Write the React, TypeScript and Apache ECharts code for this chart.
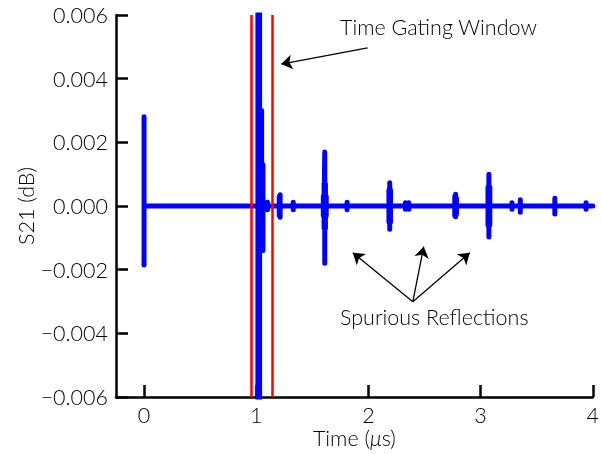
import React, { useEffect, useRef } from "react";
import * as echarts from "echarts";

// Spike/burst centres (µs) with upper and lower extents (dB)
const spikeTimes = [0, 1.015, 1.03, 1.048, 1.06, 1.1, 1.205, 1.213, 1.33, 1.598, 1.605, 1.611, 1.617, 1.624, 1.81, 2.183, 2.19, 2.197, 2.33, 2.36, 2.77, 2.777, 2.785, 3.066, 3.074, 3.082, 3.28, 3.354, 3.662, 3.94];
const spikeHigh = [0.0028, 0.012, 0.012, 0.003, 0.0013, 0.00012, 0.0003, 0.00035, 0.00012, 0.0003, 0.0007, 0.0017, 0.0007, 0.0003, 0.00012, 0.0005, 0.00073, 0.0005, 0.0001, 0.0001, 0.0003, 0.00037, 0.00025, 0.0006, 0.001, 0.0006, 0.0001, 0.0002, 0.00024, 0.0001];
const spikeLow = [-0.00185, -0.012, -0.012, -0.0014, -0.0014, -0.00012, -0.0003, -0.00035, -0.00012, -0.0003, -0.0007, -0.0018, -0.0007, -0.0003, -0.00012, -0.0005, -0.00073, -0.0005, -0.0001, -0.0001, -0.0003, -0.00034, -0.00025, -0.0006, -0.00097, -0.0006, -0.0001, -0.0002, -0.00025, -0.0001];
const timeStart = 0;
const timeEnd = 4;

// Time gating window edges (µs)
const gateEdges = [0.964, 1.135];

// x tick labels and y range
const xTicks = [0, 1, 2, 3, 4];
const yMin = -0.006;
const yMax = 0.006;
const yStep = 0.002;

// Annotation arrows in data coordinates: [tailT, tailV, headT, headV]
const gateArrow = [1.993, 0.00497, 1.223, 0.00446];
const spuriousTail = [2.396, -0.003006];
const spuriousHeads = [
  [1.861, -0.001467],
  [2.493, -0.001279],
  [2.904, -0.001467],
];

export default function App() {
  const ref = useRef<HTMLDivElement>(null);
  useEffect(() => {
    if (!ref.current) return;
    const chart = echarts.init(ref.current, undefined, { renderer: "svg" });
    const signal: [number, number][] = [[timeStart, 0]];
    spikeTimes.forEach((t, i) => {
      signal.push([t, 0], [t, spikeHigh[i]], [t, spikeLow[i]], [t, 0]);
    });
    signal.push([timeEnd, 0]);

    const font = "Lato, 'Noto Sans', sans-serif";
    const fs = 21.5;
    const fw = 300;
    const arrowLine = (tail: number[], head: number[]) => [
      { coord: [tail[0], tail[1]], symbol: "none" },
      { coord: [head[0], head[1]], symbol: "arrow" },
    ];

    chart.setOption({
      animation: false,
      textStyle: { fontFamily: font },
      grid: { left: 116, right: 4, top: 15, bottom: 57 },
      xAxis: {
        type: "value",
        min: -0.25,
        max: 4,
        name: "{a|Time (}{b|μ}{a|s)}",
        nameLocation: "middle",
        nameGap: 30,
        nameMoveOverlap: false,
        nameTextStyle: {
          rich: {
            a: { fontSize: fs, color: "#000", fontFamily: font, fontWeight: fw },
            b: { fontSize: fs, color: "#000", fontFamily: font, fontWeight: fw, fontStyle: "italic" },
          },
        },
        axisLine: { onZero: false, lineStyle: { color: "#000", width: 2.5 } },
        axisTick: { inside: true, length: 12, customValues: xTicks, lineStyle: { color: "#000", width: 2.5 } },
        axisLabel: { customValues: xTicks, fontSize: fs, fontWeight: fw, color: "#000", margin: 7, fontFamily: font },
        splitLine: { show: false },
      },
      yAxis: {
        type: "value",
        min: yMin,
        max: yMax,
        interval: yStep,
        name: "S21 (dB)",
        nameLocation: "middle",
        nameGap: 79,
        nameMoveOverlap: false,
        nameTextStyle: { fontSize: fs, fontWeight: fw, color: "#000", fontFamily: font },
        axisLine: { show: true, onZero: false, lineStyle: { color: "#000", width: 2.5 } },
        axisTick: { show: true, inside: true, length: 12, lineStyle: { color: "#000", width: 2.5 } },
        axisLabel: {
          fontSize: fs,
          fontWeight: fw,
          color: "#000",
          margin: 8,
          fontFamily: font,
          formatter: (v: number) => {
            const s = Math.abs(v).toFixed(3);
            return v < -1e-9 ? "\u2212" + s : s;
          },
        },
        splitLine: { show: false },
      },
      series: [
        {
          type: "line",
          data: [],
          silent: true,
          markLine: {
            silent: true,
            symbol: "none",
            label: { show: false },
            lineStyle: { color: "#ff0000", width: 2.5, type: "solid" },
            data: gateEdges.map((x) => ({ xAxis: x })),
          },
        },
        {
          type: "line",
          data: signal,
          showSymbol: false,
          silent: true,
          clip: true,
          lineStyle: { color: "#0000ff", width: 5, join: "round", cap: "round" },
        },
        {
          type: "line",
          data: [],
          silent: true,
          markLine: {
            silent: true,
            symbolSize: 11,
            label: { show: false },
            lineStyle: { color: "#000", width: 1.3, type: "solid" },
            data: [
              arrowLine([gateArrow[0], gateArrow[1]], [gateArrow[2], gateArrow[3]]),
              ...spuriousHeads.map((h) => arrowLine(spuriousTail, h)),
            ],
          },
        },
      ],
      graphic: [
        {
          type: "text",
          left: 340,
          top: 16,
          style: { text: "Time Gating Window", font: `${fw} ${fs}px ${font}`, fill: "#000" },
        },
        {
          type: "text",
          left: 340,
          top: 306,
          style: { text: "Spurious Reflections", font: `${fw} ${fs}px ${font}`, fill: "#000" },
        },
      ],
    });
    return () => chart.dispose();
  }, []);
  return <div ref={ref} style={{ position: "fixed", left: 0, top: 0, width: 602, height: 454 }} />;
}
